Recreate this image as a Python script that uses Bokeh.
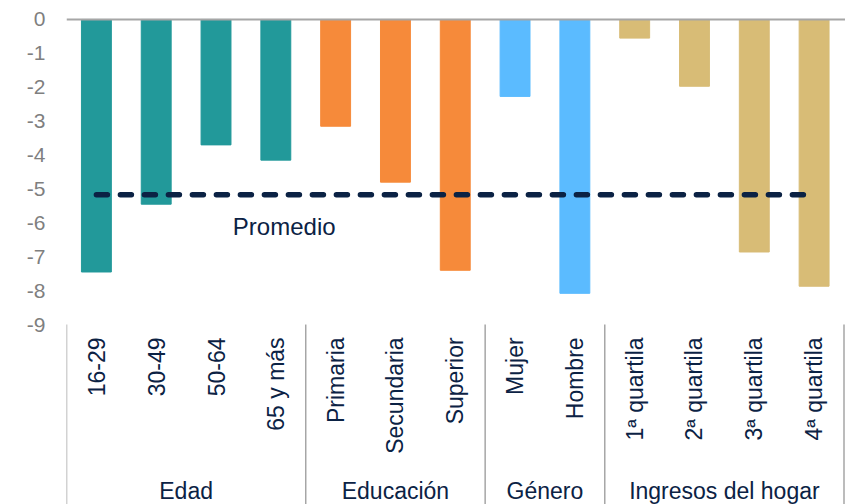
import numpy as np
from bokeh.plotting import figure
from bokeh.models import Range1d, FixedTicker, ColumnDataSource
from bokeh.core.properties import value
from bokeh.embed import file_html
from bokeh.resources import INLINE

# ---- data ----
categories = ["16-29", "30-49", "50-64", "65 y más",
              "Primaria", "Secundaria", "Superior",
              "Mujer", "Hombre",
              "1ª quartila", "2ª quartila", "3ª quartila", "4ª quartila"]
values = [-7.45, -5.45, -3.7, -4.15,
          -3.15, -4.8, -7.4,
          -2.27, -8.08,
          -0.55, -1.97, -6.86, -7.87]
groups = ["Edad", "Educación", "Género", "Ingresos del hogar"]
group_sizes = [4, 3, 2, 4]
group_colors = ["#22999A", "#F68A3A", "#5BBBFF", "#D8BC76"]
promedio = -5.17
promedio_label = "Promedio"
y_ticks = [0, -1, -2, -3, -4, -5, -6, -7, -8, -9]
y_tick_labels = ["0", "-1", "-2", "-3", "-4", "-5", "-6", "-7", "-8", "-9"]

FONT = "Liberation Sans"
NAVY = "#0B2244"
GRAY = "#A6A6A6"

n = len(categories)
xs = [i + 0.5 for i in range(n)]
colors = []
for g, c in zip(group_sizes, group_colors):
    colors += [c] * g

p = figure(width=845, height=504, output_backend="svg", toolbar_location=None,
           x_range=Range1d(0, 13.025), y_range=Range1d(-14.31, 0.56),
           min_border_left=66, min_border_right=0, min_border_top=0, min_border_bottom=0)
p.outline_line_color = None
p.xgrid.visible = False
p.ygrid.visible = False
p.xaxis.visible = False
p.background_fill_color = "white"
p.border_fill_color = "white"

ya = p.yaxis[0]
ya.ticker = FixedTicker(ticks=y_ticks)
ya.major_label_overrides = {t: s for t, s in zip(y_ticks, y_tick_labels)}
ya.axis_line_color = None
ya.major_tick_line_color = None
ya.minor_tick_line_color = None
ya.major_label_standoff = 15
ya.major_label_text_font = FONT
ya.major_label_text_font_size = "21px"
ya.major_label_text_color = "#7F7F7F"

src = ColumnDataSource(dict(x=xs, top=[0] * n, bottom=values, color=colors, cat=categories))
p.vbar(x="x", top="top", bottom="bottom", width=0.5, color="color", source=src)

# zero line
p.segment(x0=[0], y0=[0], x1=[13.025], y1=[0], line_color=GRAY, line_width=2)

# average line
p.line(x=[xs[0], xs[-1]], y=[promedio, promedio], line_color=NAVY, line_width=5.5,
       line_dash="11 13", line_cap="round")
p.text(x=[3.64], y=[-6.12], text=[promedio_label], text_font=value(FONT),
       text_font_size="24px", text_color=NAVY, text_align="center", text_baseline="middle")

# category labels (rotated)
p.text(x="x", y=-9.38, text="cat", source=src, angle=np.pi / 2, text_font=value(FONT),
       text_font_size="23px", text_color=NAVY, text_align="right", text_baseline="middle")

# group separators and labels
bounds = [0]
for g in group_sizes:
    bounds.append(bounds[-1] + g)
p.segment(x0=bounds, y0=[-9.0] * len(bounds), x1=bounds, y1=[-14.31] * len(bounds),
          line_color=GRAY, line_width=1.5)
gx = [(bounds[i] + bounds[i + 1]) / 2 for i in range(len(groups))]
p.text(x=gx, y=[-13.9] * len(groups), text=groups, text_font=value(FONT),
       text_font_size="23px", text_color=NAVY, text_align="center", text_baseline="middle")

open("out.html", "w").write(file_html(p, INLINE))
